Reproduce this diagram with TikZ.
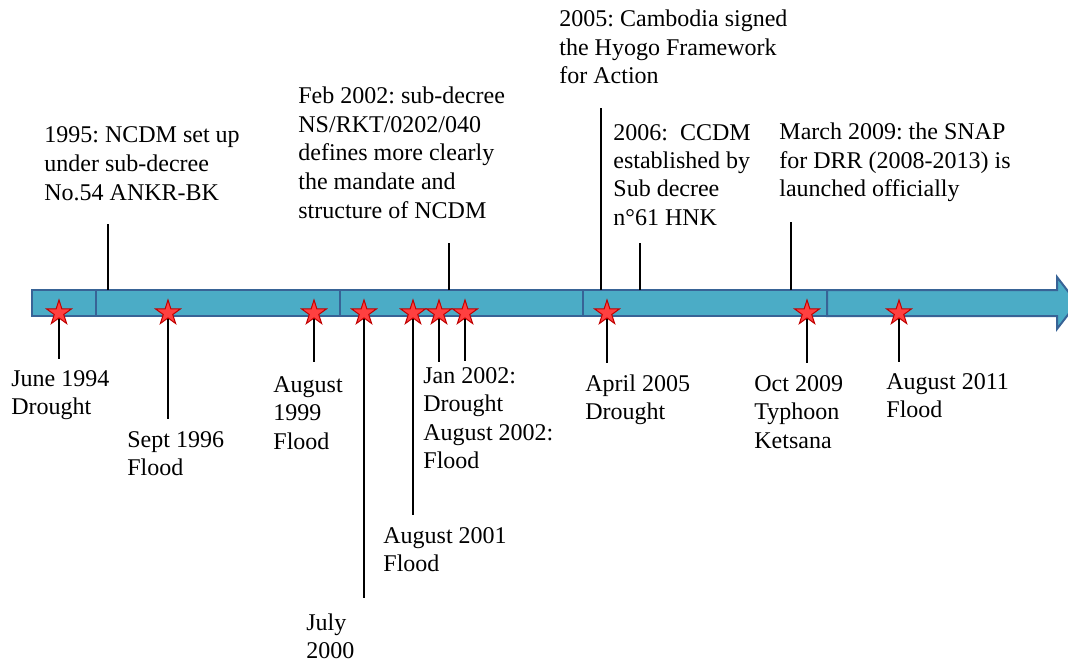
\documentclass[tikz,border=0pt]{standalone}
\usepackage{fontspec}
\setmainfont{Liberation Serif}
\usetikzlibrary{shapes.geometric}
\frenchspacing

\definecolor{barfill}{RGB}{75,172,198}
\definecolor{barline}{RGB}{56,99,150}
\definecolor{starfill}{RGB}{255,64,64}
\definecolor{starline}{RGB}{192,0,0}

\tikzset{
    event/.style={star, star points=5, star point ratio=2.618,
        minimum size=13pt, inner sep=0pt,
        fill=starfill, draw=starline, line width=0.5pt},
    % anchored on the baseline of the last line
    note/.style={anchor=base west, inner sep=0pt, align=left,
        font=\fontsize{12}{14.25}\selectfont},
    stem/.style={line width=0.75pt}
}

\begin{document}
\begin{tikzpicture}[x=0.5pt,y=-0.5pt]
        \useasboundingbox (0,0) rectangle (1068,663);

        % Timeline bar
        \begin{scope}[fill=barfill, draw=barline, line width=1pt]
            \filldraw (32,290) rectangle (96,316);
            \filldraw (96,290) rectangle (340,316);
            \filldraw (340,290) rectangle (583,316);
            \filldraw (583,290) rectangle (827,316);
            \filldraw (827,290) -- (1057,290) -- (1057,277) -- (1077,303) --
                (1057,329) -- (1057,316) -- (827,316) -- cycle;
        \end{scope}

        % Milestones above the bar
        \coordinate (b1995) at (108,290);  \coordinate (t1995) at (108,224);
        \coordinate (b2002) at (449,290);  \coordinate (t2002) at (449,243);
        \coordinate (b2005) at (601,290);  \coordinate (t2005) at (601,108);
        \coordinate (b2006) at (640,290);  \coordinate (t2006) at (640,243);
        \coordinate (b2009) at (791,290);  \coordinate (t2009) at (791,222);
        \draw [stem] (b1995) -- (t1995);
        \draw [stem] (b2002) -- (t2002);
        \draw [stem] (b2005) -- (t2005);
        \draw [stem] (b2006) -- (t2006);
        \draw [stem] (b2009) -- (t2009);

        \node [note] (m1995) at (44,200) {1995: NCDM set up\\under sub-decree\\No.54 ANKR-BK};
        \node [note] (m2002) at (298,218) {Feb 2002: sub-decree\\NS/RKT/0202/040\\defines more clearly\\the mandate and\\structure of NCDM};
        \node [note] (m2005) at (559,84) {2005: Cambodia signed\\the Hyogo Framework\\for Action};
        \node [note] (m2006) at (613,225.5) {2006:~~CCDM\\established by\\Sub decree\\n°61 HNK};
        \node [note] (m2009) at (779,197) {March 2009: the SNAP\\for DRR (2008-2013) is\\launched officially};

        % Disasters below the bar
        \coordinate (e1) at (59,359);
        \coordinate (e2) at (168,419);
        \coordinate (e3) at (314,362);
        \coordinate (e4) at (364,598);
        \coordinate (e5) at (413,515);
        \coordinate (e6) at (439,362);
        \coordinate (e7) at (465,361);
        \coordinate (e8) at (607,363);
        \coordinate (e9) at (807,363);
        \coordinate (e10) at (899,362);

        \node [event] (s1) at (59,313) {};
        \node [event] (s2) at (168,313) {};
        \node [event] (s3) at (314,313) {};
        \node [event] (s4) at (364,313) {};
        \node [event] (s5) at (413,313) {};
        \node [event] (s6) at (439,313) {};
        \node [event] (s7) at (465,313) {};
        \node [event] (s8) at (607,313) {};
        \node [event] (s9) at (807,313) {};
        \node [event] (s10) at (899,313) {};

        \draw [stem] (s1.south) -- (e1);
        \draw [stem] (s2.south) -- (e2);
        \draw [stem] (s3.south) -- (e3);
        \draw [stem] (s4.south) -- (e4);
        \draw [stem] (s5.south) -- (e5);
        \draw [stem] (s6.south) -- (e6);
        \draw [stem] (s7.south) -- (e7);
        \draw [stem] (s8.south) -- (e8);
        \draw [stem] (s9.south) -- (e9);
        \draw [stem] (s10.south) -- (e10);

        \node [note] (d1994) at (11,414.5) {June 1994\\Drought};
        \node [note] (d1996) at (127,475.5) {Sept 1996\\Flood};
        \node [note] (d1999) at (273,449) {August\\1999\\Flood};
        \node [note] (d2000) at (306,658.5) {July\\2000};
        \node [note] (d2001) at (383,571.5) {August 2001\\Flood};
        \node [note] (d2002) at (423,468.5) {Jan 2002:\\Drought\\August 2002:\\Flood};
        \node [note] (d2005) at (585,419.5) {April 2005\\Drought};
        \node [note] (d2009) at (754,448) {Oct 2009\\Typhoon\\Ketsana};
        \node [note] (d2011) at (886,417.5) {August 2011\\Flood};
\end{tikzpicture}
\end{document}
